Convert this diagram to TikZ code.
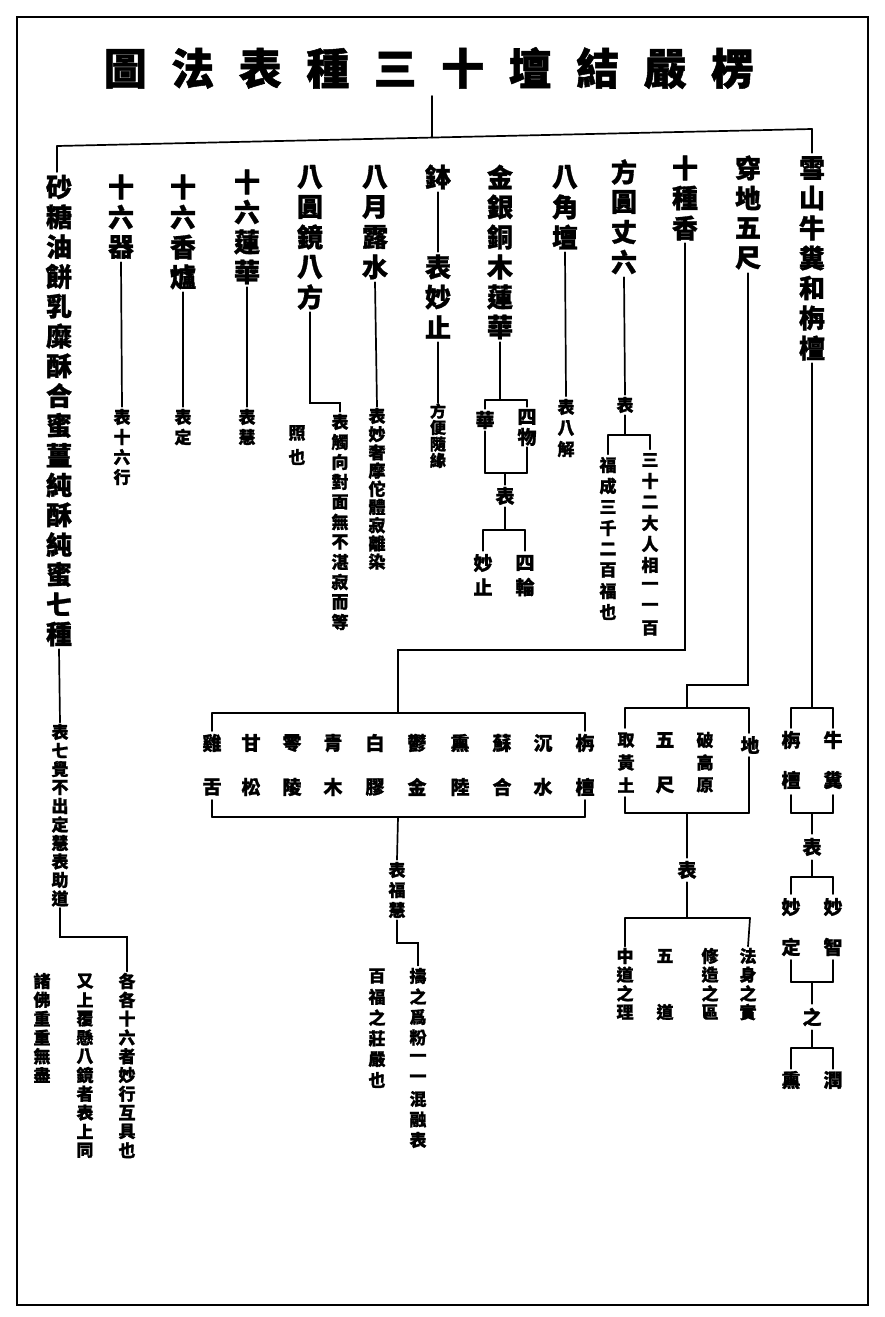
\documentclass[tikz,border=0pt]{standalone}
\usepackage{fontspec}
\newfontfamily\cjk{Noto Sans CJK TC}[BoldFeatures={FakeBold=1.2}]
\newlength\vtp
\def\vtstop{}
\newcommand\vt[2]{\setlength\vtp{#1}\vbox{\offinterlineskip\vtA#2\vtstop}}
\def\vtA#1{\ifx\vtstop#1\else\hbox{\vbox to\vtp{\vss\hbox{#1}\vss}}\expandafter\vtA\fi}
\tikzset{
  ln/.style={line width=1.7pt, line cap=round},
  fr/.style={line width=1.6pt},
  tt/.style={font=\cjk\bfseries\fontsize{43}{43}\selectfont, inner sep=0},
  bg/.style={font=\cjk\bfseries\fontsize{26}{30}\selectfont, inner sep=0},
  md/.style={font=\cjk\bfseries\fontsize{19}{22}\selectfont, inner sep=0},
  sm/.style={font=\cjk\bfseries\fontsize{17}{20}\selectfont, inner sep=0},
  xs/.style={font=\cjk\bfseries\fontsize{16}{18}\selectfont, inner sep=0},
}
\begin{document}
\begin{tikzpicture}[x=1pt,y=-1pt]
\useasboundingbox (0,0) rectangle (885,1317);
\draw[fr] (17,17) rectangle (868,1305);

% title
\node[tt] (title) at (429,68) {圖\hspace{24.5pt}法\hspace{24.5pt}表\hspace{24.5pt}種\hspace{24.5pt}三\hspace{24.5pt}十\hspace{24.5pt}壇\hspace{24.5pt}結\hspace{24.5pt}嚴\hspace{24.5pt}楞};
\coordinate (ts) at (432,96);
\coordinate (tb) at (432,137.6);
\coordinate (barL) at (57,146);
\coordinate (barR) at (812,129);
\draw[ln] (ts) -- (tb);
\draw[ln] (barL) -- (barR);

% ---------- main columns ----------
\node[bg] (c1) at (812,258) {\vt{30pt}{雪山牛糞和栴檀}};
\node[bg] (c2) at (748,213) {\vt{30pt}{穿地五尺}};
\node[bg] (c3) at (685,198) {\vt{30pt}{十種香}};
\node[bg] (c4) at (624,217) {\vt{30pt}{方圓丈六}};
\node[bg] (c5) at (565,207) {\vt{30pt}{八角壇}};
\node[bg] (c6) at (500,252) {\vt{30pt}{金銀銅木蓮華}};
\node[bg] (c7) at (438,177) {\vt{30pt}{鉢}};
\node[bg] (c8) at (375,222) {\vt{30pt}{八月露水}};
\node[bg] (c9) at (310,237) {\vt{30pt}{八圓鏡八方}};
\node[bg] (c10) at (247,227) {\vt{30pt}{十六蓮華}};
\node[bg] (c11) at (183,232) {\vt{30pt}{十六香爐}};
\node[bg] (c12) at (121,217) {\vt{30pt}{十六器}};
\node[bg] (c13) at (59,410.5) {\vt{29.8pt}{砂糖油餅乳糜酥合蜜薑純酥純蜜七種}};

\draw[ln] (barR) -- (c1.north);
\draw[ln] (barL) -- (barL |- c13.north);

% column 4 : 方圓丈六
\node[sm] (c4b) at (625,405) {\vt{20pt}{表}};
\node[sm] (c4r) at (650,544) {\vt{21pt}{三十二大人相一一百}};
\node[sm] (c4l) at (608,538.5) {\vt{21pt}{福成三千二百福也}};
\coordinate (c4s) at (625,435);
\coordinate (c4L) at (608,435);
\coordinate (c4R) at (650,435);
\draw[ln] (c4.south) -- (c4b.north);
\draw[ln] (c4b.south) -- (c4s);
\draw[ln] (c4L) -- (c4R);
\draw[ln] (c4R) -- (c4r.north);
\draw[ln] (c4L) -- (c4l.north);

% column 5 : 八角壇
\node[sm] (c5b) at (566,428) {\vt{21pt}{表八解}};
\draw[ln] (c5.south) -- (c5b.north);

% column 6 : 金銀銅木蓮華
\coordinate (c6s) at (500,400);
\coordinate (c6TL) at (485,400);
\coordinate (c6TR) at (527,400);
\coordinate (c6BL) at (485,473);
\coordinate (c6BR) at (527,473);
\node[md] (c6r) at (527,427) {\vt{20pt}{四物}};
\node[md] (c6l) at (485,420) {\vt{22pt}{華}};
\node[md] (c6b) at (505,496) {\vt{22pt}{表}};
\coordinate (c6m) at (505,473);
\coordinate (c6n) at (505,530);
\coordinate (c6L2) at (483,530);
\coordinate (c6R2) at (525,530);
\node[md] (c6rr) at (525,575) {\vt{24pt}{四輪}};
\node[md] (c6ll) at (483,575) {\vt{24pt}{妙止}};
\draw[ln] (c6.south) -- (c6s);
\draw[ln] (c6TL) -- (c6TR);
\draw[ln] (c6TR) -- (c6r.north);
\draw[ln] (c6r.south) -- (c6BR);
\draw[ln] (c6TL) -- (c6l.north);
\draw[ln] (c6l.south) -- (c6BL);
\draw[ln] (c6BL) -- (c6BR);
\draw[ln] (c6m) -- (c6b.north);
\draw[ln] (c6b.south) -- (c6n);
\draw[ln] (c6L2) -- (c6R2);
\draw[ln] (c6R2) -- (c6rr.north);
\draw[ln] (c6L2) -- (c6ll.north);

% column 7 : 鉢
\node[bg] (c7b) at (438,297) {\vt{30pt}{表妙止}};
\node[xs] (c7c) at (438,435.75) {\vt{16.5pt}{方便隨緣}};
\draw[ln] (c7.south) -- (c7b.north);
\draw[ln] (c7b.south) -- (c7c.north);

% column 8 : 八月露水
\node[sm] (c8b) at (377,488.8) {\vt{18.2pt}{表妙奢摩佗體寂離染}};
\draw[ln] (c8.south) -- (c8b.north);

% column 9 : 八圓鏡八方
\node[sm] (c9b) at (340,522) {\vt{20pt}{表觸向對面無不湛寂而等}};
\node[sm] (c9c) at (297,445) {\vt{24pt}{照也}};
\coordinate (c9k) at (310,403);
\coordinate (c9j) at (340,403);
\draw[ln] (c9.south) -- (c9k) -- (c9j) -- (c9b.north);

% columns 10-12
\node[sm] (c10b) at (247,427) {\vt{20pt}{表慧}};
\draw[ln] (c10.south) -- (c10b.north);
\node[sm] (c11b) at (183,427) {\vt{20pt}{表定}};
\draw[ln] (c11.south) -- (c11b.north);
\node[sm] (c12b) at (122,447) {\vt{20pt}{表十六行}};
\draw[ln] (c12.south) -- (c12b.north);

% column 13 : 砂糖...
\node[sm] (c13b) at (60,815.25) {\vt{18.5pt}{表七覺不出定慧表助道}};
\node[sm] (c13c) at (127,1065.6) {\vt{18.8pt}{各各十六者妙行互具也}};
\node[sm] (c13d) at (85,1065.6) {\vt{18.8pt}{又上覆懸八鏡者表上同}};
\node[sm] (c13e) at (42,1028) {\vt{18.8pt}{諸佛重重無盡}};
\coordinate (c13k) at (60,937);
\coordinate (c13j) at (127,937);
\draw[ln] (c13.south) -- (c13b.north);
\draw[ln] (c13b.south) -- (c13k) -- (c13j) -- (c13c.north);

% ---------- 十種香 : incense box ----------
\coordinate (c3k) at (685,650);
\coordinate (c3j) at (398,650);
\coordinate (ibT) at (398,713);
\coordinate (ibB) at (398,817);
\coordinate (ibTL) at (212,713);
\coordinate (ibTR) at (585,713);
\coordinate (ibBL) at (212,817);
\coordinate (ibBR) at (585,817);
\draw[ln] (c3.south) -- (c3k) -- (c3j) -- (ibT);
\draw[ln] (ibTL) -- (ibTR);
\draw[ln] (ibBL) -- (ibBR);
\node[md] (i1) at (212,765) {\vt{44pt}{雞舌}};
\node[md] (i2) at (251,765) {\vt{44pt}{甘松}};
\node[md] (i3) at (292,765) {\vt{44pt}{零陵}};
\node[md] (i4) at (333,765) {\vt{44pt}{青木}};
\node[md] (i5) at (375,765) {\vt{44pt}{白膠}};
\node[md] (i6) at (417,765) {\vt{44pt}{鬱金}};
\node[md] (i7) at (460,765) {\vt{44pt}{熏陸}};
\node[md] (i8) at (502,765) {\vt{44pt}{蘇合}};
\node[md] (i9) at (543,765) {\vt{44pt}{沉水}};
\node[md] (i10) at (585,765) {\vt{44pt}{栴檀}};
\draw[ln] (ibTL) -- (212,731);
\draw[ln] (212,800) -- (ibBL);
\draw[ln] (ibTR) -- (585,731);
\draw[ln] (585,800) -- (ibBR);
\node[sm] (i11) at (397,890) {\vt{20pt}{表福慧}};
\node[sm] (i12) at (418,1058) {\vt{20.5pt}{擣之爲粉一一混融表}};
\node[sm] (i13) at (377,1028) {\vt{20.8pt}{百福之莊嚴也}};
\coordinate (ik) at (397,943);
\coordinate (ij) at (418,943);
\draw[ln] (ibB) -- (i11.north);
\draw[ln] (i11.south) -- (ik) -- (ij) -- (i12.north);

% ---------- 穿地五尺 : box ----------
\coordinate (c2k) at (748,685);
\coordinate (c2j) at (687,685);
\coordinate (bxT) at (687,708);
\coordinate (bxB) at (687,813);
\coordinate (bxTL) at (625,708);
\coordinate (bxTR) at (749,708);
\coordinate (bxBL) at (625,813);
\coordinate (bxBR) at (749,813);
\draw[ln] (c2.south) -- (c2k) -- (c2j) -- (bxT);
\draw[ln] (bxTL) -- (bxTR);
\draw[ln] (bxBL) -- (bxBR);
\node[md] (b1) at (750,745) {\vt{22pt}{地}};
\node[sm] (b2) at (705,762.5) {\vt{22.5pt}{破高原}};
\node[md] (b3) at (665,762.5) {\vt{45pt}{五尺}};
\node[sm] (b4) at (626,762.5) {\vt{22.5pt}{取黃土}};
\draw[ln] (bxTR) -- (749,733);
\draw[ln] (749,757) -- (bxBR);
\draw[ln] (bxTL) -- (625,728);
\draw[ln] (625,797) -- (bxBL);
\node[md] (b5) at (687,870) {\vt{24pt}{表}};
\coordinate (bqm) at (687,918);
\coordinate (bqL) at (625,918);
\coordinate (bqR) at (750,918);
\draw[ln] (bxB) -- (b5.north);
\draw[ln] (b5.south) -- (bqm);
\draw[ln] (bqL) -- (bqR);
\node[sm] (b6) at (748,984) {\vt{18.7pt}{法身之實}};
\node[sm] (b7) at (710,984) {\vt{18.7pt}{修造之區}};
\node[sm] (b8) at (665,984) {\vt{56pt}{五道}};
\node[sm] (b9) at (625,984) {\vt{18.7pt}{中道之理}};
\draw[ln] (bqR) -- (b6.north);
\draw[ln] (bqL) -- (b9.north);

% ---------- 雪山牛糞和栴檀 : brackets ----------
\coordinate (g1T) at (812,708);
\coordinate (g1TL) at (791,708);
\coordinate (g1TR) at (833,708);
\coordinate (g1BL) at (791,813);
\coordinate (g1BR) at (833,813);
\coordinate (g1B) at (812,813);
\draw[ln] (c1.south) -- (g1T);
\draw[ln] (g1TL) -- (g1TR);
\draw[ln] (g1BL) -- (g1BR);
\node[md] (g1) at (833,760) {\vt{40pt}{牛糞}};
\node[md] (g2) at (791,760) {\vt{40pt}{栴檀}};
\draw[ln] (g1TR) -- (833,728);
\draw[ln] (833,795) -- (g1BR);
\draw[ln] (g1TL) -- (791,728);
\draw[ln] (791,795) -- (g1BL);
\node[md] (g3) at (812,847) {\vt{26pt}{表}};
\coordinate (g2m) at (812,877);
\coordinate (g2L) at (791,877);
\coordinate (g2R) at (833,877);
\coordinate (g2BL) at (791,982);
\coordinate (g2BR) at (833,982);
\coordinate (g2B) at (812,982);
\draw[ln] (g1B) -- (g3.north);
\draw[ln] (g3.south) -- (g2m);
\draw[ln] (g2L) -- (g2R);
\draw[ln] (g2BL) -- (g2BR);
\node[md] (g4) at (833,927) {\vt{40pt}{妙智}};
\node[md] (g5) at (791,927) {\vt{40pt}{妙定}};
\draw[ln] (g2R) -- (833,894);
\draw[ln] (833,960) -- (g2BR);
\draw[ln] (g2L) -- (791,894);
\draw[ln] (791,960) -- (g2BL);
\node[md] (g6) at (812,1017) {\vt{26pt}{之}};
\coordinate (g3m) at (812,1048);
\coordinate (g3L) at (791,1048);
\coordinate (g3R) at (833,1048);
\draw[ln] (g2B) -- (g6.north);
\draw[ln] (g6.south) -- (g3m);
\draw[ln] (g3L) -- (g3R);
\node[md] (g7) at (833,1080) {\vt{22pt}{潤}};
\node[md] (g8) at (791,1080) {\vt{22pt}{熏}};
\draw[ln] (g3R) -- (g7.north);
\draw[ln] (g3L) -- (g8.north);
\end{tikzpicture}
\end{document}
